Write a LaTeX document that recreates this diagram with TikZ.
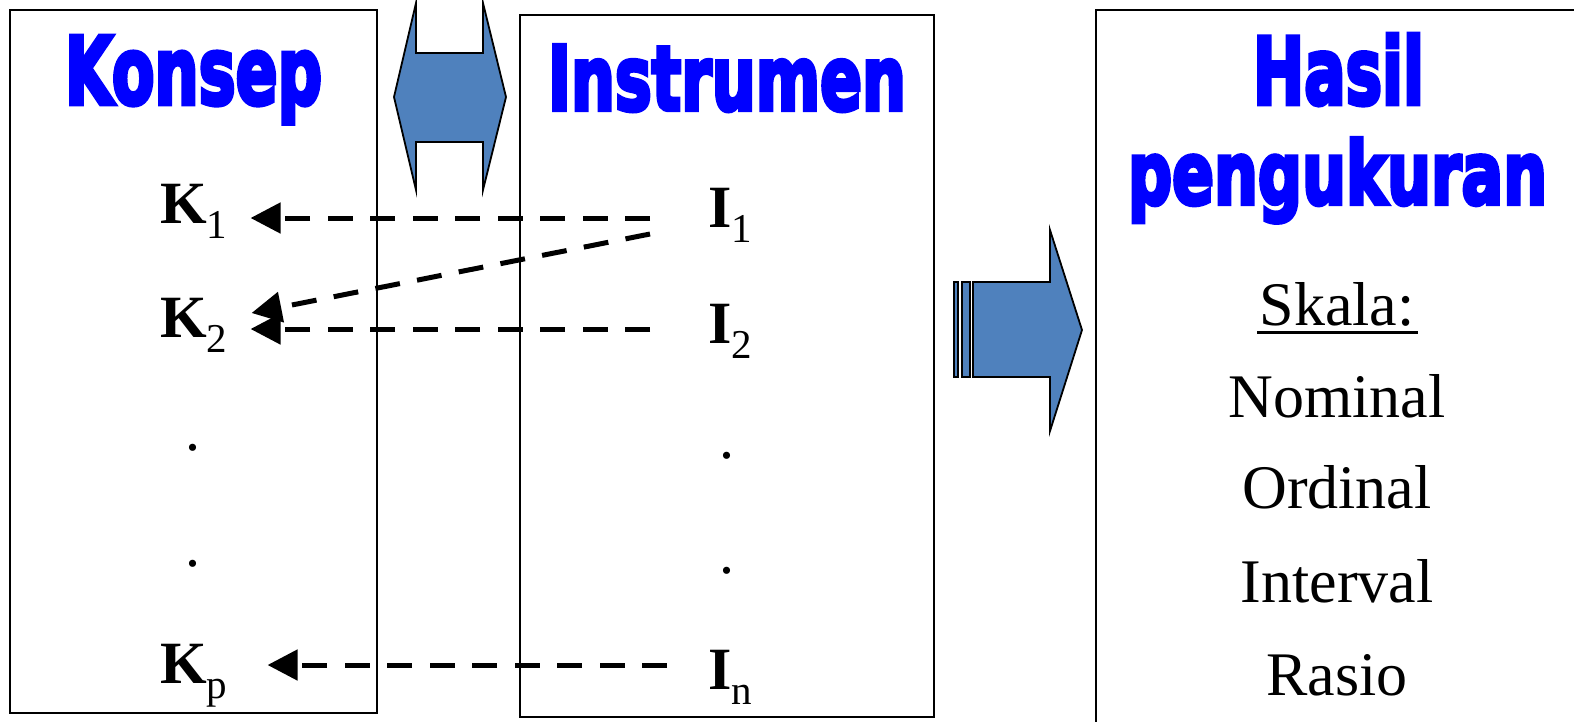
\documentclass[tikz,border=0pt]{standalone}
\usepackage{fontspec}
\usepackage{graphicx}
\setmainfont{Liberation Serif}
\newfontfamily\headfont{DejaVu Sans}[BoldFeatures={FakeBold=5}]
\usepackage{tikz}
\usetikzlibrary{calc,arrows.meta,positioning}
\definecolor{headblue}{HTML}{0000FF}
\definecolor{blockx}{HTML}{4F81BD}
\newcommand{\hd}[3]{\resizebox{#1pt}{#2pt}{\headfont\bfseries #3}}
\newcommand{\ki}[2]{\textbf{#1}\raisebox{-15pt}{\fontsize{41}{41}\selectfont #2}}
\tikzset{
  frame/.style={draw=black,line width=2pt},
  blk/.style={fill=blockx,draw=black,line width=1.8pt,line join=miter},
  head/.style={text=headblue,inner sep=0pt,anchor=base},
  lab/.style={font=\fontsize{60}{60}\selectfont,inner sep=0pt,anchor=base west},
  sk/.style={font=\fontsize{62}{62}\selectfont,inner sep=0pt,anchor=base},
  dar/.style={line width=5pt,dash pattern=on 25pt off 17.5pt,-{Triangle[length=30pt,width=30pt]}}
}
\begin{document}
\begin{tikzpicture}[x=1pt,y=-1pt]
\useasboundingbox (0,0) rectangle (1574,721);
\draw[frame] (10,10) rectangle (377,713);
\draw[frame] (520,15) rectangle (934,717);
\draw[frame] (1096,730) -- (1096,10) -- (1590,10);
\draw[blk] (416,3) -- (416,53) -- (483,53) -- (483,3) -- (506,97) -- (483,190) -- (483,142)
  -- (416,142) -- (416,190) -- (394,97) -- cycle;
\draw[blk] (954,282) rectangle (958,377);
\draw[blk] (962,282) rectangle (970,377);
\draw[blk] (973,282) -- (1050,282) -- (1050,230) -- (1082,330) -- (1050,431) -- (1050,377) -- (973,377) -- cycle;
\node[head] (konsep) at (193.5,104) {\hd{257}{68}{Konsep}};
\node[head] (instr) at (727,110) {\hd{358}{65}{Instrumen}};
\node[head] (hasil) at (1338.5,104) {\hd{171}{70}{Hasil}};
\node[head] (ukur) at (1337.5,204) {\hd{419}{66}{pengukuran}};
\node[lab] (k1) at (160,223) {\ki{K}{1}};
\node[lab] (k2) at (160,337) {\ki{K}{2}};
\node[lab] (kp) at (160,683) {\ki{K}{p}};
\node[lab] (i1) at (708,227) {\ki{I}{1}};
\node[lab] (i2) at (708,343) {\ki{I}{2}};
\node[lab] (in) at (708,689) {\ki{I}{n}};
\node[lab,anchor=base] (kd1) at (193,450) {.};
\node[lab,anchor=base] (kd2) at (193,566) {.};
\node[lab,anchor=base] (id1) at (727,458) {.};
\node[lab,anchor=base] (id2) at (727,573) {.};
\draw[dar] ([shift={(-58pt,9pt)}]i1.base west) -- ([shift={(23pt,5pt)}]k1.base east);
\draw[dar] ([shift={(-58pt,-7pt)}]i1.base west) -- ([shift={(24pt,24pt)}]k2.base east);
\draw[dar] ([shift={(-58pt,14pt)}]i2.base west) -- ([shift={(23pt,8pt)}]k2.base east);
\draw[dar] ([shift={(-41pt,24pt)}]in.base west) -- ([shift={(40pt,18pt)}]kp.base east);
\node[sk] (skala) at (1337,325) {Skala:};
\draw[line width=3pt] ([shift={(-2pt,-7pt)}]skala.base west) -- ([shift={(3pt,-7pt)}]skala.base east);
\node[sk] (nom) at (1337,417) {Nominal};
\node[sk] (ord) at (1337,508) {Ordinal};
\node[sk] (intv) at (1337,602) {Interval};
\node[sk] (ras) at (1337,695) {Rasio};
\end{tikzpicture}
\end{document}
